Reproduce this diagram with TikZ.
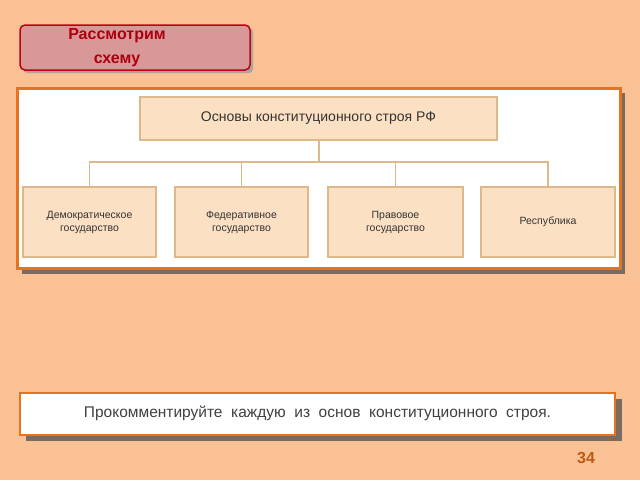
\documentclass[tikz,border=0pt]{standalone}
\usepackage{fontspec}
\setmainfont{Liberation Sans}
\definecolor{bg}{HTML}{F9C194}
\definecolor{orng}{HTML}{E8731E}
\definecolor{boxf}{HTML}{FCE0C4}
\definecolor{boxd}{HTML}{DDB88A}
\definecolor{btnf}{HTML}{D99898}
\definecolor{btnd}{HTML}{C00010}
\definecolor{shad}{HTML}{7A6A60}
\begin{document}
\begin{tikzpicture}[x=1pt,y=-1pt,
  cell/.style={draw=boxd,line width=1.2pt,fill=boxf,align=center,font=\fontsize{10.5}{13}\selectfont,text=black!80},
  wire/.style={draw=boxd,line width=1.2pt}]
\fill[bg] (0,0) rectangle (640,480);
\useasboundingbox (0,0) rectangle (640,480);
% button
\fill[shad!60,rounded corners=4pt] (23,28) rectangle (253,73);
\draw[btnd,line width=1.5pt,fill=btnf,rounded corners=5pt] (20,25) rectangle (250,70);
\node[text=btnd!90!black,font=\bfseries\fontsize{16}{24}\selectfont,align=center] (btn) at (117,48) {Рассмотрим\\схему};
% main panel
\fill[shad] (22,93) rectangle (625,274);
\draw[orng,line width=3pt,fill=white] (17,88) rectangle (620,268);
\node[cell,minimum width=357pt,minimum height=43pt,font=\fontsize{14}{16}\selectfont] (top) at (318.5,118.5) {Основы конституционного строя РФ};
\node[cell,minimum width=133pt,minimum height=70pt] (a) at (89.5,222) {Демократическое\\государство};
\node[cell,minimum width=133pt,minimum height=70pt] (b) at (241.5,222) {Федеративное\\государство};
\node[cell,minimum width=135pt,minimum height=70pt] (c) at (395.5,222) {Правовое\\государство};
\node[cell,minimum width=134pt,minimum height=70pt] (d) at (548,222) {Республика};
\coordinate (j) at (319,162);
\draw[wire] (top.south -| j) -- (j);
\draw[wire] (a.north) |- (j);
\draw[wire] (b.north) |- (j);
\draw[wire] (c.north) |- (j);
\draw[wire] (d.north) |- (j);
% bottom
\fill[shad] (26,399) rectangle (622,441);
\draw[orng,line width=2pt,fill=white] (20,393) rectangle (615,435);
\node[font=\fontsize{15.5}{18}\selectfont,text=black!75] (note) at (317.5,413) {Прокомментируйте\ \ каждую\ \ из\ \ основ\ \ конституционного\ \ строя.};
\node[font=\bfseries\fontsize{16}{18}\selectfont,text=orng!80!black] (num) at (586,458) {34};
\end{tikzpicture}
\end{document}
